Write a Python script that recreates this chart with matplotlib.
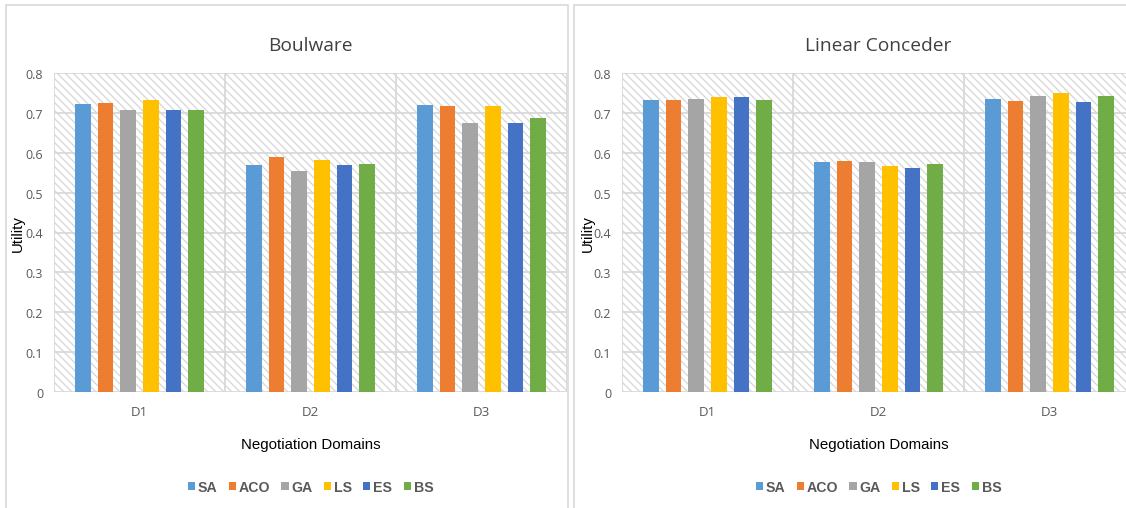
import matplotlib
matplotlib.use("Agg")
import matplotlib.pyplot as plt
from matplotlib.patches import Rectangle, Patch
from matplotlib.ticker import FuncFormatter
import numpy as np

# ---- data -------------------------------------------------------------
domains = ["D1", "D2", "D3"]
algorithms = ["SA", "ACO", "GA", "LS", "ES", "BS"]
bar_colors = ["#5B9BD5", "#ED7D31", "#A5A5A5", "#FFC000", "#4472C4", "#70AD47"]

# utility per algorithm (rows) and domain (columns)
boulware_utility = [
    [0.722, 0.569, 0.721],  # SA
    [0.724, 0.589, 0.717],  # ACO
    [0.707, 0.553, 0.675],  # GA
    [0.732, 0.583, 0.716],  # LS
    [0.707, 0.569, 0.675],  # ES
    [0.708, 0.572, 0.687],  # BS
]
linear_utility = [
    [0.733, 0.578, 0.735],  # SA
    [0.732, 0.580, 0.731],  # ACO
    [0.734, 0.578, 0.743],  # GA
    [0.739, 0.567, 0.750],  # LS
    [0.741, 0.561, 0.728],  # ES
    [0.732, 0.573, 0.743],  # BS
]
y_ticks = [0.0, 0.1, 0.2, 0.3, 0.4, 0.5, 0.6, 0.7, 0.8]
titles = ["Boulware", "Linear Conceder"]

# ---- styling ----------------------------------------------------------
DPI = 120
W, H = 1126, 509
GRID = "#d9d9d9"
TEXT_GRAY = "#595959"
plt.rcParams["hatch.color"] = "#d6d6d6"
plt.rcParams["hatch.linewidth"] = 0.75

fig = plt.figure(figsize=(W / DPI, H / DPI), dpi=DPI)
fig.patch.set_facecolor("white")

# panel frames around each chart
for x0, x1 in [(6, 568), (574, 1140)]:
    fig.add_artist(Rectangle((x0 / W, -0.02), (x1 - x0) / W, (H - 6) / H + 0.02,
                             transform=fig.transFigure, facecolor="none",
                             edgecolor=GRID, linewidth=1.0, zorder=0))

plot_w = 513 / W
plot_h = 319 / H
plot_b = (H - 393) / H
axes_left = [54 / W, 622 / W]
ylabel_px = [18, 588]

n_alg = len(algorithms)
step = 0.132
bar_w = 0.091
x = np.arange(len(domains))

for k, (values, title) in enumerate(zip([boulware_utility, linear_utility], titles)):
    ax = fig.add_axes([axes_left[k], plot_b, plot_w, plot_h])
    ax.set_xlim(-0.5, len(domains) - 0.5)
    ax.set_ylim(0, 0.8)
    for s in ax.spines.values():
        s.set_visible(False)

    # hatched plot-area background
    ax.add_patch(Rectangle((0, 0), 1, 1, transform=ax.transAxes, facecolor="white",
                           edgecolor="#d6d6d6", linewidth=0, hatch="\\" * 5, zorder=0))

    # gridlines
    for yv in y_ticks:
        ax.axhline(yv, color=GRID, linewidth=1.1, zorder=1)
    for xv in np.arange(-0.5, len(domains), 1.0):
        ax.axvline(xv, color=GRID, linewidth=1.1, zorder=1)

    for i, (alg, col) in enumerate(zip(algorithms, bar_colors)):
        ax.bar(x + (i - (n_alg - 1) / 2) * step, values[i], width=bar_w,
               color=col, label=alg, zorder=3, linewidth=0)

    ax.set_xticks(x)
    ax.set_xticklabels(domains, fontfamily="Open Sans", fontsize=8, color=TEXT_GRAY)
    ax.set_yticks(y_ticks)
    ax.yaxis.set_major_formatter(FuncFormatter(lambda v, p: "0" if v == 0 else f"{v:.1f}"))
    for lab in ax.get_yticklabels():
        lab.set_fontfamily("Open Sans")
        lab.set_fontsize(7.5)
        lab.set_color(TEXT_GRAY)
    ax.tick_params(axis="both", length=0)
    ax.tick_params(axis="y", pad=6.5)
    ax.tick_params(axis="x", pad=8)

    ax.text(0.5, 1.072, title, transform=ax.transAxes, ha="center", va="baseline",
            fontfamily="Open Sans", fontsize=11.5, color="#404040")

    ax.text((ylabel_px[k] - axes_left[k] * W) / 513, 0.5, "Utility",
            transform=ax.transAxes, rotation=90, ha="center", va="center",
            fontfamily="Liberation Sans", fontsize=9, color="black")
    ax.text(0.5, (393 - 445) / 319, "Negotiation Domains", transform=ax.transAxes,
            ha="center", va="center", fontfamily="Liberation Sans", fontsize=9,
            color="black")

    handles = [Patch(facecolor=c, edgecolor="none") for c in bar_colors]
    leg = ax.legend(handles, algorithms, loc="center",
                    bbox_to_anchor=(0.5, (393 - 488) / 319), ncol=n_alg,
                    frameon=False, handlelength=0.5, handleheight=0.5,
                    handletextpad=0.2, columnspacing=0.8, borderaxespad=0,
                    prop={"family": "Liberation Sans", "weight": "bold", "size": 8.5})
    for t in leg.get_texts():
        t.set_color(TEXT_GRAY)

fig.savefig("out.png", dpi=DPI, facecolor="white")
